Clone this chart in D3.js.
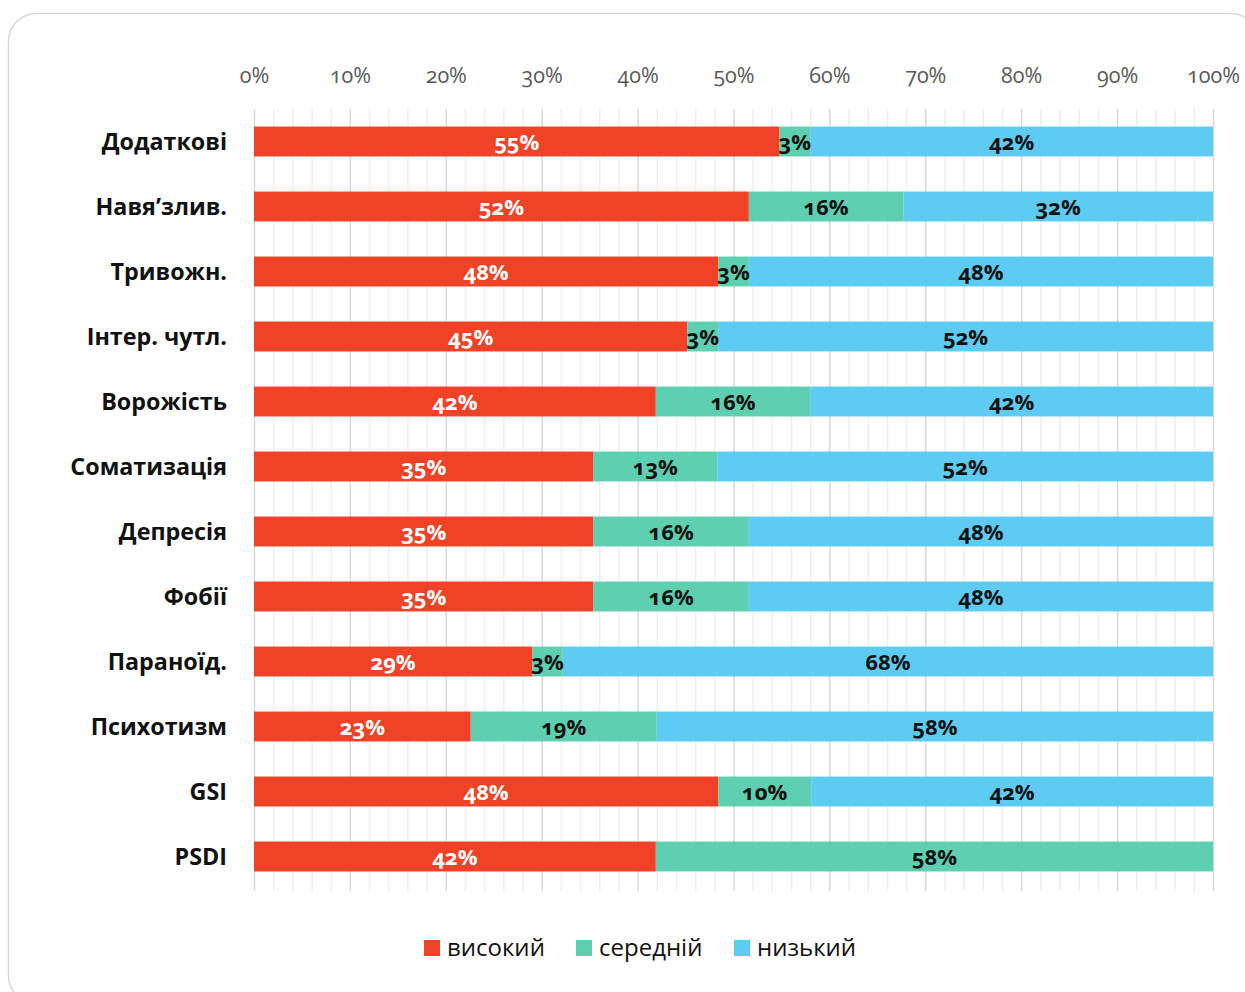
<!DOCTYPE html>
<html>
<head>
<meta charset="utf-8">
<script src="https://cdn.jsdelivr.net/npm/d3@7"></script>
<style>
  html, body { margin: 0; padding: 0; background: #ffffff; }
  svg { display: block; }
  .num { font-family: "Open Sans", "Noto Sans", sans-serif; font-variant-numeric: oldstyle-nums; font-feature-settings: "onum" 1; }
</style>
</head>
<body>
<svg id="chart" width="1245" height="992"></svg>
<script>
// Scale categories, top to bottom
const categories = ["Додаткові", "Навя’злив.", "Тривожн.", "Інтер. чутл.", "Ворожість",
  "Соматизація", "Депресія", "Фобії", "Параноїд.", "Психотизм", "GSI", "PSDI"];

// Share of respondents per level, %
const high   = [54.8, 51.6, 48.4, 45.2, 41.9, 35.4, 35.4, 35.4, 29.0, 22.6, 48.4, 41.9];
const medium = [3.2, 16.1, 3.2, 3.2, 16.1, 12.9, 16.2, 16.2, 3.2, 19.4, 9.7, 58.1];
const low    = [42.0, 32.3, 48.4, 51.6, 42.0, 51.7, 48.4, 48.4, 67.8, 58.0, 41.9, 0];

const seriesNames  = ["високий", "середній", "низький"];
const seriesColors = ["#F04226", "#5ECFB1", "#5ECBF3"];
const labelColors  = ["#ffffff", "#111111", "#111111"];
const tickValues   = [0, 10, 20, 30, 40, 50, 60, 70, 80, 90, 100];

const svg = d3.select("#chart");
const W = 1245, H = 992;

// card background
svg.append("rect")
  .attr("x", 8.5).attr("y", 13.5)
  .attr("width", 1250).attr("height", 990)
  .attr("rx", 28).attr("ry", 28)
  .attr("fill", "#ffffff")
  .attr("stroke", "#d9d9d9").attr("stroke-width", 1.5);

const margin = { left: 254, right: 32, top: 109, bottom: 103 };
const x = d3.scaleLinear().domain([0, 100]).range([margin.left, W - margin.right]);
const y = d3.scaleBand().domain(categories).range([margin.top, margin.top + 780]).paddingInner(0.54).paddingOuter(0.27);

// minor and major vertical gridlines
const minor = d3.range(0, 101, 2).filter(v => v % 10 !== 0);
svg.append("g").selectAll("line").data(minor).join("line")
  .attr("x1", d => x(d) + 0.5).attr("x2", d => x(d) + 0.5)
  .attr("y1", margin.top).attr("y2", margin.top + 782)
  .attr("stroke", "#eeeeee").attr("stroke-width", 1.5);
svg.append("g").selectAll("line").data(tickValues).join("line")
  .attr("x1", d => x(d) + 0.5).attr("x2", d => x(d) + 0.5)
  .attr("y1", margin.top).attr("y2", margin.top + 782)
  .attr("stroke", "#d9d9d9").attr("stroke-width", 1.5);

// top axis labels
const axis = svg.append("g")
  .attr("transform", `translate(0,${margin.top - 26})`)
  .call(d3.axisTop(x).tickValues(tickValues).tickFormat(d => d + "%").tickSize(0).tickPadding(0));
axis.select(".domain").remove();
axis.selectAll("text")
  .attr("class", "num")
  .attr("font-size", 21.5)
  .attr("fill", "#595959");

// stacked data
const rows = categories.map((c, i) => ({ cat: c, v: [high[i], medium[i], low[i]] }));
const stack = rows.map(r => {
  let acc = 0;
  return r.v.map((v, k) => { const s = { cat: r.cat, k, v, x0: acc, x1: acc + v }; acc += v; return s; });
});
const segs = stack.flat().filter(s => s.v > 0);

svg.append("g").selectAll("rect").data(segs).join("rect")
  .attr("x", d => x(d.x0))
  .attr("width", d => x(d.x1) - x(d.x0))
  .attr("y", d => y(d.cat))
  .attr("height", y.bandwidth())
  .attr("fill", d => seriesColors[d.k]);

// value labels
const fmt = d3.format(".0f");
svg.append("g").selectAll("text").data(segs).join("text")
  .attr("class", "num")
  .attr("x", d => (x(d.x0) + x(d.x1)) / 2)
  .attr("y", d => y(d.cat) + y.bandwidth() / 2 + 8)
  .attr("text-anchor", "middle")
  .attr("font-size", 22)
  .attr("font-weight", 700)
  .attr("fill", d => labelColors[d.k])
  .text(d => fmt(d.v) + "%");

// category labels
svg.append("g").selectAll("text").data(categories).join("text")
  .attr("x", 227)
  .attr("y", d => y(d) + y.bandwidth() / 2 + 8)
  .attr("text-anchor", "end")
  .attr("font-family", "'Open Sans', 'Noto Sans', sans-serif")
  .attr("font-weight", 700)
  .attr("font-size", 23.3)
  .attr("fill", "#111111")
  .text(d => d);

// legend
const legendX = [424, 576, 734];
const lg = svg.append("g").selectAll("g").data(seriesNames).join("g")
  .attr("transform", (d, i) => `translate(${legendX[i]},940)`);
lg.append("rect").attr("width", 16).attr("height", 16).attr("fill", (d, i) => seriesColors[i]);
lg.append("text")
  .attr("x", 23).attr("y", 16)
  .attr("font-family", "'Open Sans', 'Noto Sans', sans-serif")
  .attr("font-size", 24)
  .attr("fill", "#111111")
  .text(d => d);
</script>
</body>
</html>
